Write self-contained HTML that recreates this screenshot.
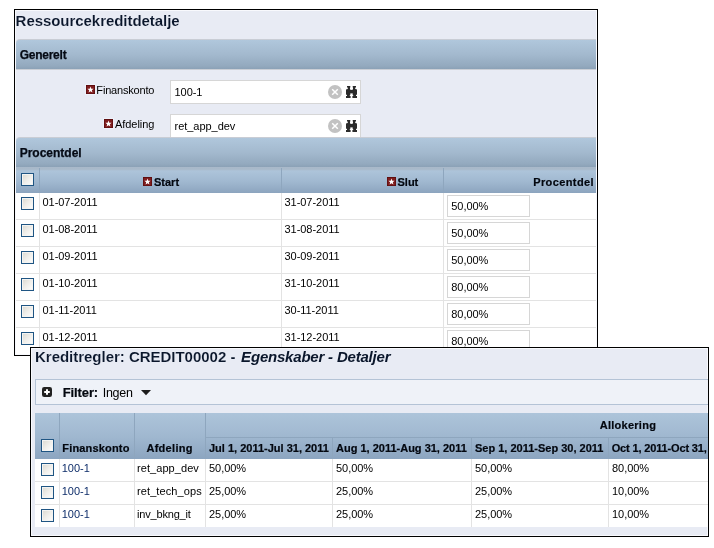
<!DOCTYPE html>
<html><head><meta charset="utf-8"><title>Ressourcekreditdetalje</title>
<style>
html,body{margin:0;padding:0;background:#fff;}
body{width:714px;height:548px;overflow:hidden;position:relative;font-family:"Liberation Sans",sans-serif;font-size:11px;color:#000;letter-spacing:-0.18px;}
.abs{position:absolute;}
.t{position:absolute;white-space:nowrap;line-height:14px;height:14px;}
.b{font-weight:bold;letter-spacing:0;color:#03070f;-webkit-text-stroke:0.2px #03070f;}
#box1{position:absolute;left:14px;top:9px;width:582px;height:345px;border:1px solid #000;background:#e8ebf4;overflow:hidden;}
#box2{position:absolute;left:30px;top:347px;width:677px;height:188px;border:1px solid #000;background:#e8ebf4;overflow:hidden;}
.sec{position:absolute;left:1px;width:580px;height:29px;background:linear-gradient(#b0c7dc 0%,#a3b9ce 50%,#93a9be 90%,#8ba1b6 100%);border-top:1px solid #c9cdd5;border-bottom:1px solid #cbcfd6;border-top-left-radius:4px;}
.sec span{position:absolute;left:3.7px;top:8px;font-weight:bold;font-size:12px;line-height:14px;color:#050a14;white-space:nowrap;letter-spacing:-0.25px;-webkit-text-stroke:0.25px #050a14;}
#box1:after,#box2:after{content:"";position:absolute;left:0;top:0;right:0;bottom:0;border:1px solid #f8f9fd;pointer-events:none;}
#box2:after{border-right:none;}
.hdr{position:absolute;background:linear-gradient(#adc4da 0%,#a0b8d0 50%,#8ca5c0 100%);}
.vs{position:absolute;width:1px;background:#8ea6be;}
.vl{position:absolute;width:1px;background:#e3e3e3;}
.hl{position:absolute;height:1px;background:#e3e3e3;}
.inp{position:absolute;background:#fff;border:1px solid #d6d6d6;box-sizing:border-box;}
.cb{position:absolute;width:13px;height:13px;box-sizing:border-box;border:1px solid #1f5583;background:linear-gradient(135deg,#d9d8d0 0%,#efeeea 50%,#ffffff 100%);}
.cb:after{content:"";position:absolute;left:0;top:0;right:0;bottom:0;border:1px solid #f4f4f2;}
.star{position:absolute;width:9px;height:9px;box-shadow:0 0 0 1px #eef2fb;}
.n{letter-spacing:-0.04px;}
.lnk{color:#0f2e6a;}
</style></head><body>

<div id="box1">
  <div class="t" id="title1" style="left:0.6px;top:3px;font-size:15px;font-weight:bold;-webkit-text-stroke:0.12px #e8ebf4;line-height:16px;height:16px;color:#0a162b;letter-spacing:-0.05px;">Ressourcekreditdetalje</div>
  <div class="sec" style="top:29px;"><span id="sec1">Generelt</span></div>

  <svg class="star" style="left:71px;top:75px;" viewBox="0 0 9 9"><rect width="9" height="9" fill="#5c0d0e"/><rect x="0.7" y="0.9" width="7.6" height="7.4" fill="#7f1d1e"/><path d="M4.50 1.55 L5.32 3.67 L7.59 3.80 L5.83 5.23 L6.41 7.43 L4.50 6.20 L2.59 7.43 L3.17 5.23 L1.41 3.80 L3.68 3.67Z" fill="#fff"/></svg>
  <div class="t" id="lab1" style="right:442.7px;top:73px;">Finanskonto</div>
  <div class="inp" style="left:155px;top:70px;width:191px;height:24px;"></div>
  <div class="t n" id="val1" style="left:159.5px;top:75px;">100-1</div>

  <svg class="star" style="left:89px;top:109px;" viewBox="0 0 9 9"><rect width="9" height="9" fill="#5c0d0e"/><rect x="0.7" y="0.9" width="7.6" height="7.4" fill="#7f1d1e"/><path d="M4.50 1.55 L5.32 3.67 L7.59 3.80 L5.83 5.23 L6.41 7.43 L4.50 6.20 L2.59 7.43 L3.17 5.23 L1.41 3.80 L3.68 3.67Z" fill="#fff"/></svg>
  <div class="t" id="lab2" style="right:442.7px;top:107px;letter-spacing:-0.05px;">Afdeling</div>
  <div class="inp" style="left:155px;top:104px;width:191px;height:24px;"></div>
  <div class="t" id="val2" style="left:159.5px;top:109px;letter-spacing:-0.03px;">ret_app_dev</div>

  <!-- clear + binocular icons -->
  <svg class="abs" style="left:313px;top:75px;width:30px;height:14px;" viewBox="0 0 30 14"><circle cx="7" cy="7" r="7" fill="#c2c2c2"/><path d="M4.2 4.2 L9.8 9.8 M9.8 4.2 L4.2 9.8" stroke="#fff" stroke-width="1.5" fill="none"/><g fill="#2b2b2b"><path d="M19.0 1.0 L22.3 1.0 L22.3 2.6 L22.0 2.6 L22.0 4.0 L22.3 4.2 L22.3 10.0 L21.8 10.0 L21.8 11.0 L22.6 11.0 L22.6 13.0 L18.0 13.0 L18.0 11.0 L19.0 11.0 L19.0 10.0 L18.0 9.6 L18.0 4.4 L19.8 4.0 L19.8 2.6 L19.0 2.6Z"/><path d="M28.0 1.0 L24.7 1.0 L24.7 2.6 L25.0 2.6 L25.0 4.0 L24.7 4.2 L24.7 10.0 L25.2 10.0 L25.2 11.0 L24.4 11.0 L24.4 13.0 L29.0 13.0 L29.0 11.0 L28.0 11.0 L28.0 10.0 L29.0 9.6 L29.0 4.4 L27.2 4.0 L27.2 2.6 L28.0 2.6Z"/><rect x="21.5" y="4.9" width="4" height="3.5"/></g></svg>
  <svg class="abs" style="left:313px;top:109px;width:30px;height:14px;" viewBox="0 0 30 14"><circle cx="7" cy="7" r="7" fill="#c2c2c2"/><path d="M4.2 4.2 L9.8 9.8 M9.8 4.2 L4.2 9.8" stroke="#fff" stroke-width="1.5" fill="none"/><g fill="#2b2b2b"><path d="M19.0 1.0 L22.3 1.0 L22.3 2.6 L22.0 2.6 L22.0 4.0 L22.3 4.2 L22.3 10.0 L21.8 10.0 L21.8 11.0 L22.6 11.0 L22.6 13.0 L18.0 13.0 L18.0 11.0 L19.0 11.0 L19.0 10.0 L18.0 9.6 L18.0 4.4 L19.8 4.0 L19.8 2.6 L19.0 2.6Z"/><path d="M28.0 1.0 L24.7 1.0 L24.7 2.6 L25.0 2.6 L25.0 4.0 L24.7 4.2 L24.7 10.0 L25.2 10.0 L25.2 11.0 L24.4 11.0 L24.4 13.0 L29.0 13.0 L29.0 11.0 L28.0 11.0 L28.0 10.0 L29.0 9.6 L29.0 4.4 L27.2 4.0 L27.2 2.6 L28.0 2.6Z"/><rect x="21.5" y="4.9" width="4" height="3.5"/></g></svg>

  <div class="sec" style="top:127px;border-bottom-color:#a9b9ca;"><span id="sec2" style="letter-spacing:0;">Procentdel</span></div>

  <!-- table -->
  <div class="hdr" style="left:0;top:158px;width:582px;height:25px;background:linear-gradient(#a8b8c8 0px,#aabbcc 1.5px,#adc4da 3px,#a0b8d0 55%,#8ca4be 100%);"></div>
  <div class="vs" style="left:24px;top:158px;height:25px;"></div>
  <div class="vs" style="left:266px;top:158px;height:25px;"></div>
  <div class="vs" style="left:428px;top:158px;height:25px;"></div>
  <div class="cb" style="left:6px;top:163px;"></div>
  <svg class="star" style="left:128px;top:167px;box-shadow:none;" viewBox="0 0 9 9"><rect width="9" height="9" fill="#5c0d0e"/><rect x="0.7" y="0.9" width="7.6" height="7.4" fill="#7f1d1e"/><path d="M4.50 1.55 L5.32 3.67 L7.59 3.80 L5.83 5.23 L6.41 7.43 L4.50 6.20 L2.59 7.43 L3.17 5.23 L1.41 3.80 L3.68 3.67Z" fill="#fff"/></svg>
  <div class="t b" id="hstart" style="left:139px;top:165px;">Start</div>
  <svg class="star" style="left:372px;top:167px;box-shadow:none;" viewBox="0 0 9 9"><rect width="9" height="9" fill="#5c0d0e"/><rect x="0.7" y="0.9" width="7.6" height="7.4" fill="#7f1d1e"/><path d="M4.50 1.55 L5.32 3.67 L7.59 3.80 L5.83 5.23 L6.41 7.43 L4.50 6.20 L2.59 7.43 L3.17 5.23 L1.41 3.80 L3.68 3.67Z" fill="#fff"/></svg>
  <div class="t b" id="hslut" style="left:382.5px;top:165px;">Slut</div>
  <div class="t b" id="hproc" style="right:3px;top:165px;letter-spacing:0.4px;">Procentdel</div>

  <div class="abs" style="left:0;top:183px;width:582px;height:170px;background:#fff;"></div>
  <div class="vl" style="left:24px;top:183px;height:170px;"></div>
  <div class="vl" style="left:266px;top:183px;height:170px;"></div>
  <div class="vl" style="left:428px;top:183px;height:170px;"></div>

  <!-- rows -->
  <div class="hl" style="left:0;top:209px;width:582px;"></div>
  <div class="hl" style="left:0;top:236px;width:582px;"></div>
  <div class="hl" style="left:0;top:263px;width:582px;"></div>
  <div class="hl" style="left:0;top:290px;width:582px;"></div>
  <div class="hl" style="left:0;top:317px;width:582px;"></div>

  <div class="cb" style="left:6px;top:187px;"></div><div class="t n" id="r1a" style="left:27.5px;top:185px;">01-07-2011</div><div class="t n" style="left:269.5px;top:185px;">31-07-2011</div><div class="inp" style="left:432px;top:185px;width:83px;height:22px;"></div><div class="t n" id="r1c" style="left:436.3px;top:189px;">50,00%</div>
  <div class="cb" style="left:6px;top:214px;"></div><div class="t n" style="left:27.5px;top:212px;">01-08-2011</div><div class="t n" style="left:269.5px;top:212px;">31-08-2011</div><div class="inp" style="left:432px;top:212px;width:83px;height:22px;"></div><div class="t n" style="left:436.3px;top:216px;">50,00%</div>
  <div class="cb" style="left:6px;top:241px;"></div><div class="t n" style="left:27.5px;top:239px;">01-09-2011</div><div class="t n" style="left:269.5px;top:239px;">30-09-2011</div><div class="inp" style="left:432px;top:239px;width:83px;height:22px;"></div><div class="t n" style="left:436.3px;top:243px;">50,00%</div>
  <div class="cb" style="left:6px;top:268px;"></div><div class="t n" style="left:27.5px;top:266px;">01-10-2011</div><div class="t n" style="left:269.5px;top:266px;">31-10-2011</div><div class="inp" style="left:432px;top:266px;width:83px;height:22px;"></div><div class="t n" style="left:436.3px;top:270px;">80,00%</div>
  <div class="cb" style="left:6px;top:295px;"></div><div class="t n" style="left:27.5px;top:293px;">01-11-2011</div><div class="t n" style="left:269.5px;top:293px;">30-11-2011</div><div class="inp" style="left:432px;top:293px;width:83px;height:22px;"></div><div class="t n" style="left:436.3px;top:297px;">80,00%</div>
  <div class="cb" style="left:6px;top:322px;"></div><div class="t n" style="left:27.5px;top:320px;">01-12-2011</div><div class="t n" style="left:269.5px;top:320px;">31-12-2011</div><div class="inp" style="left:432px;top:320px;width:83px;height:22px;"></div><div class="t n" style="left:436.3px;top:324px;">80,00%</div>
</div>

<div id="box2">
  <div class="abs" style="right:0;top:0;bottom:0;width:1px;background:#f8f9fd;"></div>
  <div class="t" id="title2" style="left:4px;top:1px;font-size:15px;font-weight:bold;-webkit-text-stroke:0.12px #e8ebf4;line-height:16px;height:16px;color:#0a162b;letter-spacing:-0.02px;">Kreditregler: CREDIT00002 - <i style="letter-spacing:-0.2px;margin-left:1.6px;-webkit-text-stroke:0;">Egenskaber - Detaljer</i></div>

  <div class="abs" style="left:4px;top:31px;width:690px;height:24px;border:1px solid #b4c3d6;background:#eff2f8;"></div>
  <svg class="abs" style="left:11px;top:39px;width:10px;height:10px;" viewBox="0 0 10 10"><rect width="10" height="10" rx="2.2" fill="#222"/><path d="M5 2.2v5.6M2.2 5h5.6" stroke="#fff" stroke-width="2" fill="none"/></svg>
  <div class="t b" id="filt" style="left:31.7px;top:37px;font-size:13px;line-height:15px;height:15px;letter-spacing:-0.1px;">Filter:</div><div class="t" id="filt2" style="left:71.7px;top:38px;font-size:12.5px;line-height:15px;height:15px;letter-spacing:-0.25px;">Ingen</div>
  <svg class="abs" style="left:109.5px;top:42px;width:10px;height:6px;" viewBox="0 0 10 6"><path d="M0 0h10l-5 5.3z" fill="#1c1c1c"/></svg>

  <!-- table header -->
  <div class="hdr" style="left:4px;top:65px;width:680px;height:46px;"></div>
  <div class="vs" style="left:28px;top:65px;height:46px;"></div>
  <div class="vs" style="left:103px;top:65px;height:46px;"></div>
  <div class="vs" style="left:174px;top:65px;height:46px;"></div>
  <div class="abs" style="left:175px;top:89px;width:510px;height:1px;background:#8ea6be;"></div>
  <div class="vs" style="left:301px;top:90px;height:21px;"></div>
  <div class="vs" style="left:440px;top:90px;height:21px;"></div>
  <div class="vs" style="left:577px;top:90px;height:21px;"></div>
  <div class="cb" style="left:10px;top:91px;"></div>
  <div class="t b" id="h2a" style="left:31.3px;top:93px;letter-spacing:0.17px;">Finanskonto</div>
  <div class="t b" id="h2b" style="left:115.4px;top:93px;letter-spacing:0.3px;">Afdeling</div>
  <div class="t b" id="h2all" style="left:568.7px;top:70px;letter-spacing:0.27px;">Allokering</div>
  <div class="t b" id="h2c" style="left:178px;top:93px;">Jul 1, 2011-Jul 31, 2011</div>
  <div class="t b" id="h2d" style="left:305px;top:93px;">Aug 1, 2011-Aug 31, 2011</div>
  <div class="t b" id="h2e" style="left:444px;top:93px;">Sep 1, 2011-Sep 30, 2011</div>
  <div class="t b" id="h2f" style="left:580.7px;top:93px;letter-spacing:-0.15px;">Oct 1, 2011-Oct 31, 2011</div>

  <div class="abs" style="left:4px;top:111px;width:680px;height:68px;background:#fff;"></div>
  <div class="vl" style="left:28px;top:111px;height:68px;"></div>
  <div class="vl" style="left:103px;top:111px;height:68px;"></div>
  <div class="vl" style="left:174px;top:111px;height:68px;"></div>
  <div class="vl" style="left:301px;top:111px;height:68px;"></div>
  <div class="vl" style="left:440px;top:111px;height:68px;"></div>
  <div class="vl" style="left:577px;top:111px;height:68px;"></div>
  <div class="hl" style="left:4px;top:133px;width:680px;"></div>
  <div class="hl" style="left:4px;top:156px;width:680px;"></div>

  <div class="cb" style="left:10px;top:115px;"></div><div class="t lnk n" id="d1a" style="left:30.8px;top:113px;">100-1</div><div class="t" style="left:106px;top:113px;letter-spacing:0.07px;">ret_app_dev</div><div class="t n" style="left:178px;top:113px;">50,00%</div><div class="t n" style="left:305px;top:113px;">50,00%</div><div class="t n" style="left:444px;top:113px;">50,00%</div><div class="t n" style="left:581px;top:113px;">80,00%</div>
  <div class="cb" style="left:10px;top:138px;"></div><div class="t lnk n" style="left:30.8px;top:136px;">100-1</div><div class="t" style="left:106px;top:136px;letter-spacing:0.1px;">ret_tech_ops</div><div class="t n" style="left:178px;top:136px;">25,00%</div><div class="t n" style="left:305px;top:136px;">25,00%</div><div class="t n" style="left:444px;top:136px;">25,00%</div><div class="t n" style="left:581px;top:136px;">10,00%</div>
  <div class="cb" style="left:10px;top:161px;"></div><div class="t lnk n" style="left:30.8px;top:159px;">100-1</div><div class="t" style="left:106px;top:159px;">inv_bkng_it</div><div class="t n" style="left:178px;top:159px;">25,00%</div><div class="t n" style="left:305px;top:159px;">25,00%</div><div class="t n" style="left:444px;top:159px;">25,00%</div><div class="t n" style="left:581px;top:159px;">10,00%</div>
</div>
</body></html>
